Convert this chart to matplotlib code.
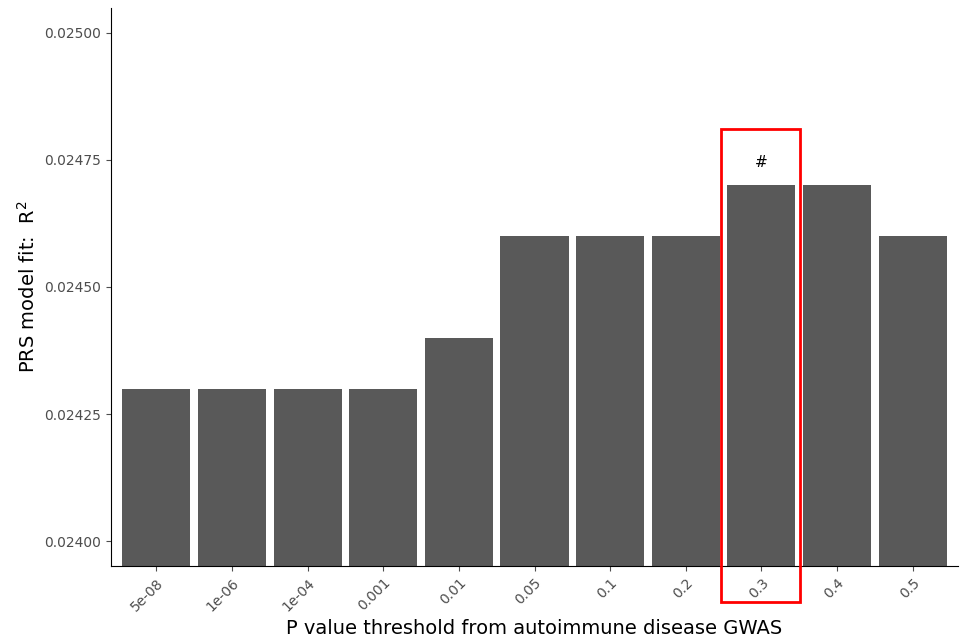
import matplotlib.pyplot as plt
from matplotlib.patches import Rectangle

thresholds = ['5e-08', '1e-06', '1e-04', '0.001', '0.01', '0.05', '0.1', '0.2', '0.3', '0.4', '0.5']
r2 = [0.02430, 0.02430, 0.02430, 0.02430, 0.02440, 0.02460, 0.02460, 0.02460, 0.02470, 0.02470, 0.02460]
ymin, ymax = 0.023951, 0.025049

fig = plt.figure(figsize=[9.68, 6.43], dpi=100)
ax = fig.add_axes([111 / 968, 77 / 643, 847 / 968, 558 / 643])
x = range(len(thresholds))
ax.bar(x, [v - ymin for v in r2], bottom=ymin, width=0.9, color='#595959')
ax.set_xlim(-0.6, len(thresholds) - 0.4)
ax.set_ylim(ymin, ymax)
ax.set_yticks([0.024, 0.02425, 0.0245, 0.02475, 0.025])
ax.set_yticklabels(['0.02400', '0.02425', '0.02450', '0.02475', '0.02500'])
ax.set_xticks(list(x))
ax.set_xticklabels(thresholds, rotation=45, ha='right', rotation_mode='anchor')
ax.tick_params(colors='#4d4d4d', labelsize=10)
ax.tick_params(axis='x', labelcolor='#4d4d4d')
for s in ['top', 'right']:
    ax.spines[s].set_visible(False)
ax.set_xlabel('P value threshold from autoimmune disease GWAS', fontsize=14)
ax.set_ylabel('PRS model fit:  R$^2$', fontsize=14)

ax.text(8, 0.02470 + 0.00003, '#', ha='center', va='bottom', fontsize=11)
fig.add_artist(Rectangle((721 / 968, (643 - 602) / 643), 79 / 968, 473 / 643,
                         transform=fig.transFigure, fill=False, edgecolor='red', linewidth=2))

plt.savefig('out.png')
